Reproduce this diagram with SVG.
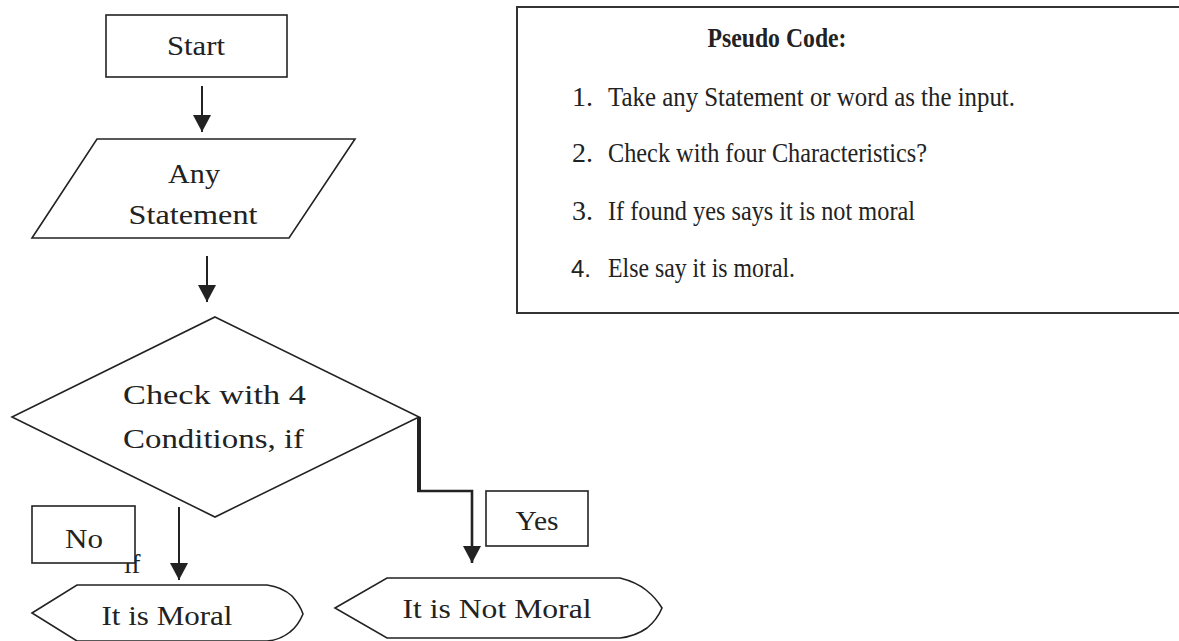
<svg xmlns="http://www.w3.org/2000/svg" width="1179" height="641" viewBox="0 0 1179 641">
<style>
.shape{fill:#fff;stroke:#222;stroke-width:1.6}
.t{font-family:"Liberation Serif","DejaVu Serif",serif;font-size:27px;fill:#222}
.p{font-family:"Liberation Serif","DejaVu Serif",serif;font-size:28px;fill:#222}
.c{text-anchor:middle}
.conn{fill:none;stroke:#222;stroke-width:2}
</style>
<defs>
<marker id="ah" viewBox="0 0 17 18" refX="17" refY="9" markerWidth="17" markerHeight="18" markerUnits="userSpaceOnUse" orient="auto">
<path d="M0,0 L17,9 L0,18 Z" fill="#222"/>
</marker>
</defs>
<rect width="1179" height="641" fill="#fff"/>

<g id="connectors">
<line class="conn" x1="202" y1="86" x2="202" y2="132" marker-end="url(#ah)"/>
<line class="conn" x1="207" y1="256" x2="207" y2="302" marker-end="url(#ah)"/>
<line class="conn" x1="179" y1="507" x2="179" y2="580" marker-end="url(#ah)"/>
<path class="conn" d="M419,417 L419,491" style="stroke-width:4"/>
<path class="conn" d="M417,491 L472,491 L472,563" style="stroke-width:2.6" marker-end="url(#ah)"/>
</g>

<g id="start">
<rect class="shape" x="106" y="15" width="181" height="62"/>
<text class="t c" x="196" y="55" textLength="58" lengthAdjust="spacingAndGlyphs">Start</text>
</g>

<g id="input">
<polygon class="shape" points="97,139 355,139 289,238 32,238"/>
<text class="t c" x="194" y="183" textLength="52" lengthAdjust="spacingAndGlyphs">Any</text>
<text class="t c" x="193" y="224" textLength="129" lengthAdjust="spacingAndGlyphs">Statement</text>
</g>

<g id="decision">
<polygon class="shape" points="215,317 419,417 215,517 12,417"/>
<text class="t" x="123" y="404" textLength="183" lengthAdjust="spacingAndGlyphs">Check  with  4</text>
<text class="t" x="123" y="448" textLength="181" lengthAdjust="spacingAndGlyphs">Conditions, if</text>
</g>

<g id="if-label">
<text class="t" x="124" y="573">if</text>
</g>

<g id="no-label">
<rect class="shape" x="32" y="506" width="103" height="57"/>
<text class="t c" x="84" y="548" textLength="38" lengthAdjust="spacingAndGlyphs">No</text>
</g>

<g id="yes-label">
<rect class="shape" x="486" y="491" width="102" height="55"/>
<text class="t c" x="537" y="530" textLength="43" lengthAdjust="spacingAndGlyphs">Yes</text>
</g>

<g id="moral">
<path class="shape" d="M32,613 L77,585 L267,585 Q282,587 292,596 Q300,605 303,614 Q298,626 290,632 Q280,640 267,641 L77,641 Z"/>
<text class="t c" x="167" y="625" textLength="131" lengthAdjust="spacingAndGlyphs">It is Moral</text>
</g>

<g id="not-moral">
<path class="shape" d="M335,608 L387,578 L620,578 Q636,582 646,590 Q656,598 662,608 Q657,620 647,628 Q636,636 620,638 L387,638 Z"/>
<text class="t c" x="497" y="618" textLength="189" lengthAdjust="spacingAndGlyphs">It is Not Moral</text>
</g>

<g id="pseudo-code">
<rect x="517" y="7" width="670" height="306" fill="#fff" stroke="#333" stroke-width="2"/>
<text class="p c" x="777" y="47" font-weight="bold" font-size="25" textLength="139" lengthAdjust="spacingAndGlyphs">Pseudo Code:</text>
<text class="p" x="572" y="106">1.</text>
<text class="p" x="608" y="106" textLength="407" lengthAdjust="spacingAndGlyphs">Take any Statement or word as the input.</text>
<text class="p" x="572" y="162">2.</text>
<text class="p" x="608" y="162" textLength="319" lengthAdjust="spacingAndGlyphs">Check with four Characteristics?</text>
<text class="p" x="572" y="220">3.</text>
<text class="p" x="608" y="220" textLength="307" lengthAdjust="spacingAndGlyphs">If found yes says it is not moral</text>
<text x="571" y="277" style="font-family:'Liberation Sans',sans-serif;font-size:24px;fill:#222">4.</text>
<text class="p" x="608" y="277" textLength="187" lengthAdjust="spacingAndGlyphs">Else say it is moral.</text>
</g>
</svg>
